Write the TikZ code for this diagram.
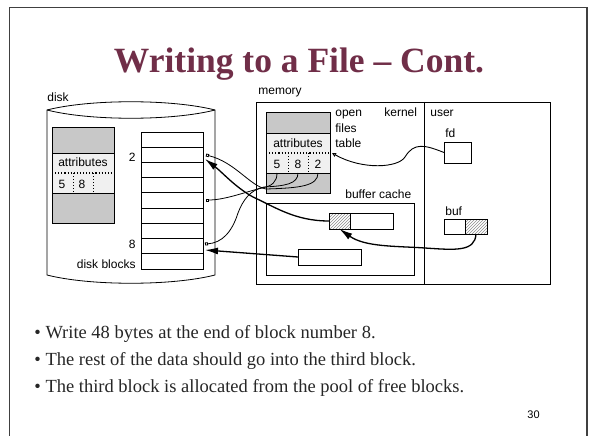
\documentclass[tikz,border=0pt]{standalone}
\usepackage{fontspec}
\setmainfont{Liberation Serif}
\setsansfont{Liberation Sans}
\usetikzlibrary{arrows.meta,patterns}
\definecolor{titlecol}{RGB}{112,46,72}
\definecolor{fillgray}{RGB}{200,200,200}
\definecolor{lightrow}{RGB}{240,240,240}
\begin{document}
\begin{tikzpicture}[x=1pt,y=-1pt,
  lbl/.style={font=\sffamily\fontsize{12}{14}\selectfont, inner sep=0, anchor=base west},
  lblc/.style={lbl, anchor=base},
  lble/.style={lbl, anchor=base east},
  bul/.style={font=\fontsize{18.5}{22}\selectfont, inner sep=0, anchor=base west, text=black!85},
  box/.style={draw, inner sep=0, outer sep=0, anchor=north west},
  ptr/.style={-{Square[open,length=3pt,width=3pt]}, line width=0.8pt},
  fdptr/.style={-{Triangle[open,length=4pt,width=4pt]}, line width=0.9pt},
  bigarrow/.style={-{Latex[length=13pt,width=7pt]}, line width=1.3pt},
  hatch/.style={pattern=north east lines, pattern color=black!45},
  line width=0.8pt]
\useasboundingbox (0,0) rectangle (590,436);
% slide frame
\draw[black!75, line width=1.4pt] (9.5,445) -- (9.5,7.5) -- (587,7.5) -- (587,445);
% title
\node[font=\fontsize{35.5}{40}\selectfont\bfseries, text=titlecol, inner sep=0, anchor=base] (title) at (299,73) {Writing to a File – Cont.};
% bullets
\node[bul] (b1) at (34,338) {• Write 48 bytes at the end of block number 8.};
\node[bul] (b2) at (34,365) {• The rest of the data should go into the third block.};
\node[bul] (b3) at (34,392) {• The third block is allocated from the pool of free blocks.};
\node[lbl, font=\sffamily\fontsize{11}{13}\selectfont] (pn) at (527,418) {30};

% ---------------- disk ----------------
\node[lbl] (disklbl) at (47,102) {disk};
\draw (47,110) .. controls (90,99) and (172,99) .. (215,110) -- (215,275)
      .. controls (172,286) and (90,286) .. (47,275) -- cycle;
\draw (47,110) .. controls (90,121) and (172,121) .. (215,110);
% inode on disk
\fill[fillgray] (52,127) rectangle (114,153);
\fill[lightrow] (52,153) rectangle (114,193);
\fill[fillgray] (52,193) rectangle (114,223);
\node[box, minimum width=62pt, minimum height=96pt] (inode) at (52,127) {};
\draw (52,153) -- (114,153) (52,193) -- (114,193);
\draw[dotted, line width=1.1pt] (52,173) -- (114,173);
\draw[dotted, line width=1pt] (73,173) -- (73,193) (93,173) -- (93,193);
\node[lblc] (iattr) at (83,167) {attributes};
\node[lblc] (i5) at (62,188) {5};
\node[lblc] (i8) at (82,188) {8};
% disk blocks
\node[box, minimum width=62pt, minimum height=137pt] (blocks) at (141,132) {};
\foreach \i in {1,...,8} \draw (141,{132+\i*15.22}) -- (203,{132+\i*15.22});
\node[lble] (l2) at (136,161) {2};
\node[lble] (l8) at (136,248) {8};
\node[lble] (ldb) at (136,268) {disk blocks};
\coordinate (blk2) at (206,155);
\coordinate (blk5) at (206,200);
\coordinate (blk8) at (205,244);
\coordinate (arr2) at (205,159);
\coordinate (arr8) at (205,250);

% ---------------- memory ----------------
\node[lbl] (memlbl) at (258,95) {memory};
\node[box, minimum width=294pt, minimum height=182pt] (mem) at (256,102) {};
\draw (424,102) -- (424,284);
\node[lbl] (kern) at (384,117) {kernel};
\node[lbl] (usr) at (430,117) {user};
% open files table
\fill[fillgray] (266,112) rectangle (330,133);
\fill[lightrow] (266,133) rectangle (330,173);
\fill[fillgray] (266,173) rectangle (330,193);
\node[box, minimum width=64pt, minimum height=81pt] (oft) at (266,112) {};
\draw (266,133) -- (330,133) (266,173) -- (330,173);
\draw[dotted, line width=1.1pt] (266,153) -- (330,153);
\draw[dotted, line width=1pt] (288,153) -- (288,173) (308,153) -- (308,173);
\node[lblc] (tattr) at (298,147) {attributes};
\node[lblc] (t5) at (277,168) {5};
\node[lblc] (t8) at (298,168) {8};
\node[lblc] (t2) at (318,168) {2};
\node[lbl] (topen) at (335,117) {open};
\node[lbl] (tfiles) at (335,132) {files};
\node[lbl] (ttable) at (335,147) {table};
\coordinate (s5) at (277,173);
\coordinate (s8) at (298,173);
\coordinate (s2) at (318,173);
\coordinate (tabptr) at (332,153);
% buffer cache
\node[lbl] (bclbl) at (345,198) {buffer cache};
\node[box, minimum width=148pt, minimum height=72pt] (bc) at (266,203) {};
\node[box, hatch, minimum width=21pt, minimum height=16pt] (bb1h) at (329,213) {};
\node[box, minimum width=43pt, minimum height=16pt] (bb1) at (350,213) {};
\node[box, minimum width=63pt, minimum height=16pt] (bb2) at (298,249) {};
% user side
\node[lbl] (fdlbl) at (445,138) {fd};
\node[box, minimum width=27pt, minimum height=21pt] (fd) at (444,142) {};
\node[lbl] (buflbl) at (445,215) {buf};
\node[box, minimum width=21pt, minimum height=15pt] (bufl) at (444,219) {};
\node[box, hatch, minimum width=22pt, minimum height=15pt] (bufh) at (465,219) {};

% ---------------- connectors ----------------
\draw[fdptr] (fd.west) .. controls (425,145) and (414,142) .. (405,157)
      .. controls (398,168) and (362,170) .. (tabptr);
\draw[ptr] (s5) .. controls (277,182) and (272,186) .. (262,188)
      .. controls (245,192) and (225,200) .. (blk5);
\draw[ptr] (s8) .. controls (298,184) and (285,186) .. (264,187)
      .. controls (250,190) and (243,200) .. (238,213)
      .. controls (232,232) and (222,243) .. (blk8);
\draw[ptr] (s2) .. controls (318,186) and (300,188) .. (266,189)
      .. controls (250,186) and (235,162) .. (blk2);
\draw[bigarrow] (bb1h.west) .. controls (295,221) and (275,207) .. (253,197)
      .. controls (235,187) and (222,172) .. (arr2);
\draw[bigarrow] (bb2.west) -- (arr8);
\draw[bigarrow] (bufh.south) .. controls (475,252) and (455,250) .. (425,248)
      .. controls (395,246) and (365,247) .. (bb1h.south);
\end{tikzpicture}
\end{document}
